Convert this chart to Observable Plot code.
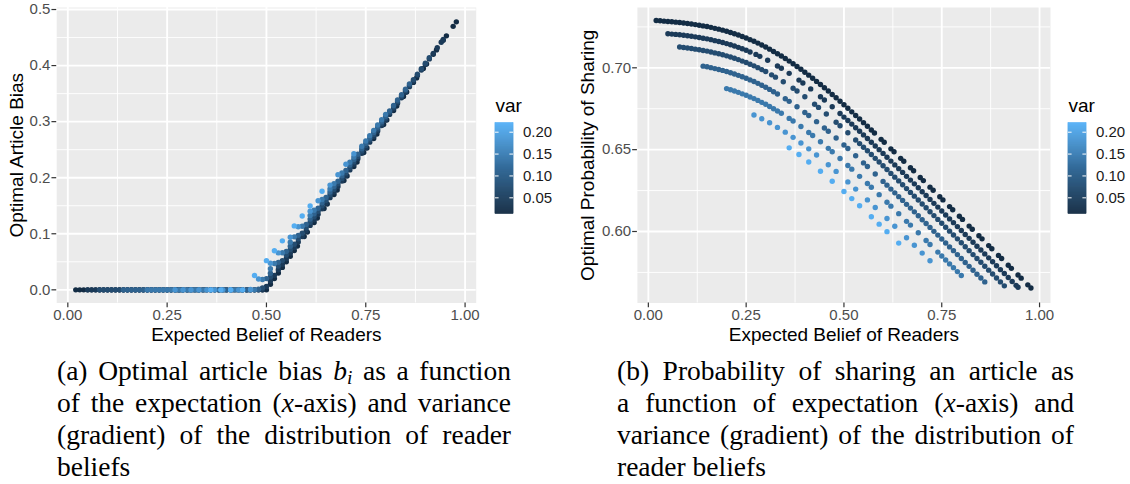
<!DOCTYPE html>
<html>
<head>
<meta charset="utf-8">
<script src="https://cdn.jsdelivr.net/npm/d3@7"></script>
<script src="https://cdn.jsdelivr.net/npm/@observablehq/plot@0.6"></script>
<style>
html, body { margin: 0; padding: 0; background: #fff; }
#root { position: relative; width: 1130px; height: 484px; overflow: hidden; }
.box { position: absolute; }
.cap { position: absolute; font-family: "Liberation Serif", "Times New Roman", serif; font-size: 27.5px; line-height: 32.2px; color: #000; }
.cap .j { text-align: justify; text-align-last: justify; }
.cap sub { font-size: 0.7em; line-height: 0; vertical-align: baseline; position: relative; top: 0.25em; }
</style>
</head>
<body>
<div id="root">
  <div class="box" id="pa" style="left:0px;top:0px;width:480px;height:348px"></div>
  <div class="box" id="la" style="left:495.3px;top:90px;width:70px;height:130px"></div>
  <div class="box" id="pb" style="left:560px;top:0px;width:492px;height:348px"></div>
  <div class="box" id="lb" style="left:1068px;top:90px;width:70px;height:130px"></div>
  <div class="cap" style="left:57px;top:354.5px;width:454px">
    <div class="j">(a) Optimal article bias <i>b</i><sub><i>i</i></sub> as a function</div>
    <div class="j">of the expectation (<i>x</i>-axis) and variance</div>
    <div class="j">(gradient) of the distribution of reader</div>
    <div>beliefs</div>
  </div>
  <div class="cap" style="left:617px;top:354.5px;width:457px">
    <div class="j">(b) Probability of sharing an article as</div>
    <div class="j">a function of expectation (<i>x</i>-axis) and</div>
    <div class="j">variance (gradient) of the distribution of</div>
    <div>reader beliefs</div>
  </div>
</div>
<script>
// ---- data: one series per variance level (expected belief, optimal bias, sharing probability) ----
const curveVar = [0.014, 0.04, 0.07, 0.105, 0.14, 0.18, 0.215];

const xA = [0.02,0.03,0.04,0.05,0.06,0.07,0.08,0.09,0.10,0.11,0.12,0.13,0.14,0.15,0.16,0.17,0.18,0.19,0.20,0.21,0.22,0.23,0.24,0.25,0.26,0.27,0.28,0.29,0.30,0.31,0.32,0.33,0.34,0.35,0.36,0.37,0.38,0.39,0.40,0.41,0.42,0.43,0.44,0.45,0.46,0.47,0.48,0.49,0.50,0.51,0.52,0.53,0.54,0.55,0.56,
  0.570,0.578,0.595,0.603,0.620,0.628,0.645,0.653,0.670,0.678,0.695,0.703,0.720,0.728,0.745,0.753,0.770,0.778,0.795,0.803,0.820,0.828,0.845,0.853,0.870,0.878,0.895,0.903,0.920,0.928,0.945,0.953,0.970,0.978];
const biasA = [0,0,0,0,0,0,0,0,0,0,0,0,0,0,0,0,0,0,0,0,0,0,0,0,0,0,0,0,0,0,0,0,0,0,0,0,0,0,0,0,0,0,0,0,0,0,0,0,0,
  0.01,0.02,0.03,0.04,0.05,0.06,
  0.070,0.078,0.095,0.103,0.120,0.128,0.145,0.153,0.170,0.178,0.195,0.203,0.220,0.228,0.245,0.253,0.270,0.278,0.295,0.303,0.320,0.328,0.345,0.353,0.370,0.378,0.395,0.403,0.420,0.428,0.445,0.453,0.470,0.478];
const shareA = [0.7289,0.7287,0.7285,0.7283,0.7281,0.7279,0.7277,0.7274,0.7271,0.7268,0.7264,0.7260,0.7256,0.7252,0.7247,0.7241,0.7236,0.7230,0.7223,0.7216,0.7208,0.7200,0.7191,0.7182,0.7172,0.7162,0.7151,0.7139,0.7127,0.7114,0.7100,0.7086,0.7072,0.7057,0.7041,0.7025,0.7008,0.6991,0.6973,0.6955,0.6936,0.6917,0.6898,0.6878,0.6858,0.6837,0.6817,0.6796,0.6774,0.6753,0.6731,0.6709,0.6687,0.6665,0.6643,
  0.6620,0.6602,0.6563,0.6545,0.6505,0.6487,0.6447,0.6429,0.6389,0.6371,0.6330,0.6311,0.6271,0.6252,0.6212,0.6193,0.6152,0.6133,0.6093,0.6074,0.6033,0.6014,0.5974,0.5955,0.5914,0.5895,0.5854,0.5835,0.5794,0.5775,0.5734,0.5715,0.5674,0.5655];

const xB = [0.05,0.06,0.07,0.08,0.09,0.10,0.11,0.12,0.13,0.14,0.15,0.16,0.17,0.18,0.19,0.20,0.21,0.22,0.23,0.24,0.25,0.26,
  0.275,0.285,0.305,0.33,0.34,0.36,0.385,0.395,0.415,0.44,0.45,0.47,0.49,
  0.50,0.51,0.52,0.53,0.54,0.55,0.56,0.57,0.58,0.59,0.60,0.61,0.62,0.63,0.64,0.65,0.66,0.67,0.68,0.69,0.70,0.71,0.72,0.73,0.74,0.75,0.76,0.77,0.78,0.79,0.80,0.81,0.82,0.83,0.84,0.85,0.86,0.87,0.88,0.89,0.90,0.91,0.92,0.93,0.94,0.945];
const biasB = [0,0,0,0,0,0,0,0,0,0,0,0,0,0,0,0,0,0,0,0,0,0,
  0,0,0,0,0,0,0,0,0,0,0,0,0,
  0.0060,0.0159,0.0258,0.0357,0.0456,0.0555,0.0654,0.0753,0.0852,0.0951,0.1050,0.1149,0.1248,0.1347,0.1446,0.1545,0.1644,0.1743,0.1842,0.1941,0.2040,0.2139,0.2238,0.2337,0.2436,0.2535,0.2634,0.2733,0.2832,0.2931,0.3030,0.3129,0.3228,0.3327,0.3426,0.3525,0.3624,0.3723,0.3822,0.3921,0.4020,0.4119,0.4218,0.4317,0.4416,0.4465];
const shareB = [0.7208,0.7206,0.7204,0.7202,0.7199,0.7196,0.7193,0.7189,0.7185,0.7181,0.7177,0.7172,0.7166,0.7161,0.7155,0.7148,0.7141,0.7133,0.7125,0.7116,0.7107,0.7097,
  0.7082,0.7070,0.7046,0.7011,0.6997,0.6966,0.6925,0.6907,0.6871,0.6823,0.6803,0.6762,0.6721,
  0.6699,0.6678,0.6656,0.6634,0.6612,0.6590,0.6568,0.6545,0.6522,0.6500,0.6477,0.6454,0.6430,0.6407,0.6384,0.6361,0.6337,0.6314,0.6291,0.6267,0.6243,0.6220,0.6196,0.6172,0.6149,0.6125,0.6101,0.6077,0.6054,0.6030,0.6006,0.5982,0.5958,0.5934,0.5910,0.5887,0.5863,0.5839,0.5815,0.5791,0.5767,0.5743,0.5719,0.5695,0.5671,0.5659];

const xC = [0.08,0.09,0.10,0.11,0.12,0.13,0.14,0.15,0.16,0.17,0.18,0.19,0.20,0.21,0.22,0.23,0.24,0.25,0.26,0.27,0.28,0.29,0.30,
  0.315,0.325,0.345,0.37,0.38,0.40,0.425,0.435,0.455,0.48,0.49,0.51,0.53,0.54,
  0.55,0.56,0.57,0.58,0.59,0.60,0.61,0.62,0.63,0.64,0.65,0.66,0.67,0.68,0.69,0.70,0.71,0.72,0.73,0.74,0.75,0.76,0.77,0.78,0.79,0.80,0.81,0.82,0.83,0.84,0.85,0.86,0.87,0.88,0.89,0.90,0.91];
const biasC = [0,0,0,0,0,0,0,0,0,0,0,0,0,0,0,0,0,0,0,0,0,0,0,
  0,0,0,0,0,0,0,0,0,0,0.0032,0.0228,0.0423,0.0521,
  0.0619,0.0717,0.0815,0.0912,0.1010,0.1108,0.1206,0.1304,0.1401,0.1499,0.1597,0.1695,0.1793,0.1890,0.1988,0.2086,0.2184,0.2282,0.2379,0.2477,0.2575,0.2673,0.2771,0.2868,0.2966,0.3064,0.3162,0.3260,0.3357,0.3455,0.3553,0.3651,0.3749,0.3846,0.3944,0.4042,0.4140];
const shareC = [0.7127,0.7124,0.7121,0.7118,0.7114,0.7110,0.7106,0.7102,0.7097,0.7091,0.7086,0.7080,0.7073,0.7066,0.7058,0.7050,0.7041,0.7032,0.7022,0.7012,0.7001,0.6989,0.6977,
  0.6957,0.6943,0.6915,0.6875,0.6858,0.6823,0.6777,0.6758,0.6718,0.6667,0.6646,0.6603,0.6559,0.6537,
  0.6515,0.6493,0.6470,0.6447,0.6425,0.6402,0.6379,0.6355,0.6332,0.6309,0.6286,0.6262,0.6239,0.6216,0.6192,0.6168,0.6145,0.6121,0.6097,0.6074,0.6050,0.6026,0.6002,0.5979,0.5955,0.5931,0.5907,0.5883,0.5859,0.5835,0.5812,0.5788,0.5764,0.5740,0.5716,0.5692,0.5668];

const xD = [0.14,0.15,0.16,0.17,0.18,0.19,0.20,0.21,0.22,0.23,0.24,0.25,0.26,0.27,0.28,0.29,0.30,0.31,0.32,0.33,
  0.35,0.36,0.38,0.40,0.41,0.43,0.45,0.46,0.48,0.50,0.51,0.53,0.55,0.56,0.58,
  0.60,0.61,0.62,0.63,0.64,0.65,0.66,0.67,0.68,0.69,0.70,0.71,0.72,0.73,0.74,0.75,0.76,0.77,0.78,0.79,0.80,0.81,0.82,0.83,0.84,0.85,0.86];
const biasD = [0,0,0,0,0,0,0,0,0,0,0,0,0,0,0,0,0,0,0,0,
  0,0,0,0,0,0,0,0,0.001,0.0200,0.0297,0.0490,0.0683,0.0779,0.0972,
  0.1165,0.1262,0.1358,0.1455,0.1551,0.1648,0.1744,0.1841,0.1937,0.2034,0.2130,0.2227,0.2323,0.2420,0.2516,0.2613,0.2709,0.2806,0.2902,0.2999,0.3095,0.3192,0.3288,0.3385,0.3481,0.3578,0.3674];
const shareD = [0.7010,0.7006,0.7001,0.6995,0.6990,0.6984,0.6977,0.6970,0.6962,0.6954,0.6945,0.6936,0.6926,0.6916,0.6905,0.6893,0.6881,0.6868,0.6854,0.6840,
  0.6811,0.6795,0.6762,0.6727,0.6709,0.6671,0.6632,0.6612,0.6571,0.6528,0.6507,0.6463,0.6419,0.6397,0.6351,
  0.6306,0.6283,0.6259,0.6236,0.6213,0.6190,0.6166,0.6143,0.6120,0.6096,0.6072,0.6049,0.6025,0.6001,0.5978,0.5954,0.5930,0.5906,0.5883,0.5859,0.5835,0.5811,0.5787,0.5763,0.5739,0.5716,0.5692];

const xE = [0.20,0.21,0.22,0.23,0.24,0.25,0.26,0.27,0.28,0.29,0.30,0.31,0.32,0.33,0.34,
  0.36,0.37,0.39,0.41,0.42,0.44,0.46,0.47,0.49,0.51,0.52,0.54,0.56,0.57,0.59,0.61,0.62,0.64,0.66,0.67,0.69,0.71,0.72,0.74,0.75,0.76,0.77,0.78,0.79,0.80];
const biasE = [0,0,0,0,0,0,0,0,0,0,0,0,0,0,0,
  0,0,0,0,0,0,0,0,0.0185,0.0375,0.0470,0.0660,0.0850,0.0945,0.1135,0.1325,0.1420,0.1610,0.1800,0.1895,0.2085,0.2275,0.2370,0.2560,0.2655,0.2750,0.2845,0.2940,0.3035,0.3130];
const shareE = [0.6873,0.6866,0.6858,0.6850,0.6841,0.6832,0.6822,0.6812,0.6801,0.6789,0.6777,0.6764,0.6750,0.6736,0.6722,
  0.6691,0.6675,0.6641,0.6605,0.6586,0.6548,0.6508,0.6487,0.6446,0.6403,0.6381,0.6337,0.6293,0.6270,0.6225,0.6179,0.6155,0.6109,0.6062,0.6039,0.5992,0.5945,0.5921,0.5874,0.5850,0.5826,0.5802,0.5779,0.5755,0.5731];

const xF = [0.27,0.29,0.31,0.33,0.35,0.37,0.39,0.41,0.43,0.46,0.48,0.51,0.53,0.56,0.58,0.61,0.63,0.66,0.68,0.70,0.72];
const biasF = [0,0,0,0,0,0,0,0,0,0.0008,0.0194,0.0473,0.0659,0.0938,0.1124,0.1403,0.1589,0.1868,0.2054,0.2240,0.2426];
const shareF = [0.6712,0.6689,0.6664,0.6636,0.6607,0.6575,0.6541,0.6505,0.6467,0.6408,0.6367,0.6303,0.6259,0.6193,0.6147,0.6079,0.6032,0.5962,0.5916,0.5868,0.5821];

const xG = [0.36,0.385,0.41,0.44,0.47,0.50,0.52,0.54,0.57,0.59,0.61,0.64];
const biasG = [0,0,0,0,0.0255,0.0520,0.0697,0.0874,0.1140,0.1317,0.1494,0.1759];
const shareG = [0.6511,0.6470,0.6425,0.6368,0.6307,0.6244,0.6201,0.6157,0.6090,0.6045,0.5999,0.5929];

// ---- tick labels / breaks ----
const xMajor = [0, 0.25, 0.5, 0.75, 1];
const xMinor = [0.125, 0.375, 0.625, 0.875];
const biasMajor = [0, 0.1, 0.2, 0.3, 0.4, 0.5];
const biasMinor = [0.05, 0.15, 0.25, 0.35, 0.45];
const shareMajor = [0.60, 0.65, 0.70];
const shareMinor = [0.575, 0.625, 0.675, 0.725];
const legendTicks = [0.05, 0.10, 0.15, 0.20];
const xTitle = "Expected Belief of Readers";
const yTitleA = "Optimal Article Bias";
const yTitleB = "Optimal Probability of Sharing";
const legendTitle = "var";

// ---- build table ----
const series = [[xA, biasA, shareA], [xB, biasB, shareB], [xC, biasC, shareC], [xD, biasD, shareD],
                [xE, biasE, shareE], [xF, biasF, shareF], [xG, biasG, shareG]];
const rows = series.flatMap(([xs, bs, ss], k) => {
  const n = Math.min(xs.length, bs.length, ss.length);
  return xs.slice(0, n).map((x, i) => ({x, bias: bs[i], share: ss[i], v: curveVar[k]}));
});

const colorOpt = {type: "linear", domain: [0.013, 0.221], range: ["#132B43", "#56B1F7"], interpolate: "lab"};
const FONT = "'Liberation Sans', Arial, Helvetica, sans-serif";

function makePanel(o) {
  const gridMinor = {stroke: "#ffffff", strokeOpacity: 1, strokeWidth: 0.9};
  const gridMajor = {stroke: "#ffffff", strokeOpacity: 1, strokeWidth: 1.85};
  return Plot.plot({
    width: o.width, height: 348,
    marginLeft: o.ml, marginRight: o.mr, marginTop: 7, marginBottom: 45.5,
    style: {fontFamily: FONT, background: "transparent", overflow: "visible", maxWidth: "none"},
    x: {domain: [-0.028, 1.028]},
    y: {domain: o.yDomain},
    color: colorOpt,
    marks: [
      Plot.frame({fill: "#EBEBEB", stroke: "none"}),
      Plot.gridX(xMinor, gridMinor),
      Plot.gridY(o.yMinor, gridMinor),
      Plot.gridX(xMajor, gridMajor),
      Plot.gridY(o.yMajor, gridMajor),
      Plot.dot(rows, {x: "x", y: o.yKey, r: 2.7, fill: "v", stroke: "none"}),
      Plot.axisX({ticks: xMajor, tickFormat: d3.format(".2f"), tickSize: 4.75, tickPadding: 1.5, fontSize: 15,
                  stroke: "#333333", strokeWidth: 1.2, fill: "#4D4D4D", label: null}),
      Plot.axisY({ticks: o.yMajor, tickFormat: d3.format(o.yFmt), tickSize: 4.75, tickPadding: 1.5, fontSize: 15,
                  stroke: "#333333", strokeWidth: 1.2, fill: "#4D4D4D", label: null}),
      Plot.text([xTitle], {text: d => d, frameAnchor: "bottom", dy: 32, lineAnchor: "middle", fontSize: 19, fill: "#000"}),
      Plot.text([o.yTitle], {text: d => d, frameAnchor: "left", dx: o.ytdx, rotate: -90, textAnchor: "middle",
                             lineAnchor: "middle", fontSize: 19, fill: "#000"})
    ]
  });
}

function makeLegend() {
  const [lo, hi] = colorOpt.domain;
  const n = 92;
  const strips = d3.range(n).map(i => ({y1: lo + (hi - lo) * i / n, y2: lo + (hi - lo) * (i + 1) / n, v: lo + (hi - lo) * (i + 0.5) / n}));
  return Plot.plot({
    width: 70, height: 128.5, marginLeft: 0, marginRight: 52, marginTop: 32.5, marginBottom: 5,
    style: {fontFamily: FONT, background: "transparent", overflow: "visible", maxWidth: "none"},
    x: {domain: [0, 1], axis: null},
    y: {domain: [lo, hi]},
    color: colorOpt,
    marks: [
      Plot.rect(strips, {x1: 0, x2: 1, y1: "y1", y2: "y2", fill: "v", stroke: "v", strokeWidth: 0.6}),
      Plot.ruleY(legendTicks, {x1: 0, x2: 0.2, stroke: "#ffffff", strokeWidth: 1}),
      Plot.ruleY(legendTicks, {x1: 0.8, x2: 1, stroke: "#ffffff", strokeWidth: 1}),
      Plot.axisY({anchor: "right", ticks: legendTicks, tickSize: 0, tickPadding: 9.5, tickFormat: d3.format(".2f"),
                  fontSize: 15, fill: "#1A1A1A", label: null}),
      Plot.text([legendTitle], {text: d => d, frameAnchor: "top-left", dy: -17.5, textAnchor: "start", lineAnchor: "middle", fontSize: 19, fill: "#000"})
    ]
  });
}

document.getElementById("pa").appendChild(makePanel({
  width: 480, ml: 56.2, mr: 4.3, yKey: "bias", yDomain: [-0.0235, 0.5036],
  yMajor: biasMajor, yMinor: biasMinor, yFmt: ".1f", yTitle: yTitleA, ytdx: -40
}));
document.getElementById("pb").appendChild(makePanel({
  width: 492, ml: 76.9, mr: 2, yKey: "share", yDomain: [0.55632, 0.73684],
  yMajor: shareMajor, yMinor: shareMinor, yFmt: ".2f", yTitle: yTitleB, ytdx: -49
}));
document.getElementById("la").appendChild(makeLegend());
document.getElementById("lb").appendChild(makeLegend());
</script>
</body>
</html>
